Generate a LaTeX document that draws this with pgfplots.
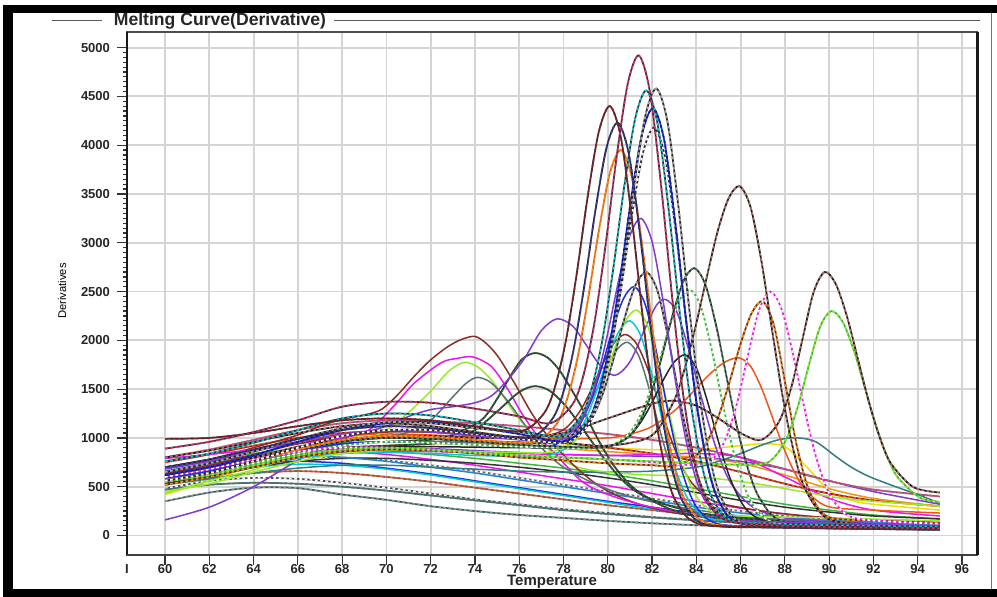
\documentclass[border=0pt]{standalone}
\usepackage{fontspec}
\setmainfont{Liberation Sans}
\usepackage{pgfplots}
\pgfplotsset{compat=1.18}
\usepackage{pgfplotstable}

\definecolor{cPink}{RGB}{230,40,110}
\definecolor{cDRed}{RGB}{150,25,35}
\definecolor{cNavy}{RGB}{60,60,170}
\definecolor{cCyan}{RGB}{0,200,215}
\definecolor{cBlue}{RGB}{25,45,225}
\definecolor{cOrRed}{RGB}{240,85,25}
\definecolor{cPurple}{RGB}{125,60,205}
\definecolor{cDBrown}{RGB}{175,110,100}
\definecolor{cBrown}{RGB}{140,45,35}
\definecolor{cLime}{RGB}{150,235,40}
\definecolor{cMag}{RGB}{235,20,235}
\definecolor{cOrange}{RGB}{235,150,20}
\definecolor{cDGreen}{RGB}{40,110,50}
\definecolor{cGreen}{RGB}{60,180,60}
\definecolor{cTeal}{RGB}{50,125,125}
\definecolor{cSlate}{RGB}{90,115,115}
\definecolor{cYellow}{RGB}{240,220,0}
\definecolor{cSteel}{RGB}{40,130,210}

% ---------- background curves ----------
\pgfplotstableread[row sep=\\]{x y\\60 350\\62 440\\64 490\\66 485\\68 420\\70 365\\72 300\\74 250\\76 210\\78 180\\80 150\\82 125\\84 105\\86 90\\88 80\\90 72\\92 66\\95 60\\}\bgA
\pgfplotstableread[row sep=\\]{x y\\60 480\\62 560\\64 590\\66 580\\68 540\\70 490\\72 430\\74 370\\76 320\\78 270\\80 230\\82 190\\84 160\\86 135\\88 115\\90 100\\92 90\\95 80\\}\bgB
\pgfplotstableread[row sep=\\]{x y\\60 520\\62 590\\64 640\\66 660\\68 640\\70 600\\72 550\\74 490\\76 430\\78 370\\80 310\\82 260\\84 210\\86 170\\88 140\\90 120\\92 105\\95 90\\}\bgC
\pgfplotstableread[row sep=\\]{x y\\60 600\\62 680\\64 740\\66 760\\68 740\\70 690\\72 630\\74 560\\76 490\\78 420\\80 350\\82 290\\84 230\\86 190\\88 160\\90 140\\92 125\\95 110\\}\bgD
\pgfplotstableread[row sep=\\]{x y\\60 560\\62 640\\64 700\\66 730\\68 720\\70 680\\72 620\\74 550\\76 480\\78 410\\80 340\\82 270\\84 210\\86 170\\88 140\\90 120\\92 110\\95 100\\}\bgE
\pgfplotstableread[row sep=\\]{x y\\60 620\\62 700\\64 770\\66 800\\68 800\\70 770\\72 720\\74 660\\76 590\\78 520\\80 450\\82 380\\84 310\\86 250\\88 200\\90 170\\92 150\\95 130\\}\bgF
\pgfplotstableread[row sep=\\]{x y\\60 640\\62 720\\64 800\\66 850\\68 860\\70 830\\72 780\\74 720\\76 650\\78 580\\80 510\\82 430\\84 350\\86 280\\88 220\\90 180\\92 150\\95 130\\}\bgG
\pgfplotstableread[row sep=\\]{x y\\60 690\\62 770\\64 840\\66 880\\68 880\\70 860\\72 830\\74 790\\76 740\\78 690\\80 630\\82 560\\84 480\\86 400\\88 320\\90 260\\92 210\\95 170\\}\bgH
\pgfplotstableread[row sep=\\]{x y\\60 420\\62 560\\64 720\\66 870\\68 990\\70 1060\\72 1080\\74 1060\\76 1000\\78 940\\80 900\\82 880\\84 880\\86 920\\87 940\\88 910\\89 700\\90 460\\91 360\\92 320\\95 260\\}\bgI
\pgfplotstableread[row sep=\\]{x y\\60 700\\62 760\\64 820\\66 870\\68 900\\70 900\\72 890\\74 870\\76 850\\78 830\\80 820\\82 810\\84 800\\86 760\\88 680\\90 560\\92 450\\95 320\\}\bgJ
\pgfplotstableread[row sep=\\]{x y\\60 750\\62 830\\64 920\\66 1000\\68 1050\\70 1070\\72 1060\\74 1030\\76 990\\78 950\\80 900\\82 840\\84 760\\86 650\\88 530\\90 430\\92 360\\95 300\\}\bgK
\pgfplotstableread[row sep=\\]{x y\\60 540\\62 620\\64 700\\66 760\\68 790\\70 790\\72 770\\74 740\\76 700\\78 650\\80 590\\82 520\\84 440\\86 360\\88 290\\90 240\\92 200\\95 170\\}\bgL
\pgfplotstableread[row sep=\\]{x y\\60 580\\62 650\\64 740\\66 820\\68 880\\70 920\\72 940\\74 940\\76 920\\78 890\\80 860\\82 830\\84 800\\86 740\\88 620\\90 480\\92 380\\95 300\\}\bgM
\pgfplotstableread[row sep=\\]{x y\\60 470\\62 520\\64 540\\66 530\\68 500\\70 460\\72 410\\74 360\\76 310\\78 260\\80 220\\82 185\\84 155\\86 130\\88 110\\90 95\\92 85\\95 75\\}\bgN
\pgfplotstableread[row sep=\\]{x y\\60 660\\62 740\\64 800\\66 820\\68 800\\70 760\\72 700\\74 640\\76 570\\78 500\\80 430\\82 360\\84 290\\86 230\\88 185\\90 155\\92 135\\95 115\\}\bgO
\pgfplotstableread[row sep=\\]{x y\\60 800\\62 880\\64 980\\66 1080\\68 1150\\70 1180\\72 1170\\74 1150\\76 1120\\78 1080\\80 1040\\82 980\\84 900\\86 800\\88 680\\90 560\\92 470\\95 400\\}\bgP
\pgfplotstableread[row sep=\\]{x y\\60 620\\62 690\\64 760\\66 820\\68 850\\70 860\\72 860\\74 850\\76 840\\78 830\\80 820\\82 830\\84 840\\86 800\\88 600\\90 380\\92 260\\95 200\\}\bgQ

% ---------- peaked curves ----------
\pgfplotstableread[row sep=\\]{x y\\60 890\\62 960\\64 1060\\66 1180\\68 1320\\70 1370\\72 1360\\74 1300\\76 1220\\77.4 1150\\78.4 1342\\78.9 1642\\79.4 2184\\79.9 2976\\80.4 3882\\80.9 4628\\81.4 4920\\81.9 4550\\82.4 3605\\82.9 2458\\83.4 1454\\83.9 768\\84.4 389\\85.4 150\\88 100\\91 85\\95 75\\}\pkA
\pgfplotstableread[row sep=\\]{x y\\60 990\\62 1000\\64 1050\\66 1120\\68 1180\\70 1200\\72 1180\\74 1120\\76.1 1070\\77.1 1247\\77.6 1511\\78.1 1989\\78.6 2687\\79.1 3485\\79.6 4143\\80.1 4400\\80.6 4069\\81.1 3222\\81.6 2194\\82.1 1295\\82.6 681\\83.1 341\\84.1 120\\87 90\\91 75\\95 65\\}\pkB
\pgfplotstableread[row sep=\\]{x y\\60 700\\62 780\\64 880\\66 990\\68 1080\\70 1120\\72 1100\\74 1050\\76.45 1005\\77.45 1181\\77.95 1436\\78.45 1898\\78.95 2573\\79.45 3345\\79.95 3981\\80.45 4230\\80.95 3911\\81.45 3096\\81.95 2106\\82.45 1241\\82.95 649\\83.45 322\\84.45 110\\88 80\\95 60\\}\pkC
\pgfplotstableread[row sep=\\]{x y\\60 760\\62 840\\64 950\\66 1080\\68 1200\\70 1250\\72 1230\\74 1160\\76 1080\\77.75 1015\\78.75 1209\\79.25 1489\\79.75 1997\\80.25 2739\\80.75 3587\\81.25 4287\\81.75 4560\\82.25 4218\\82.75 3343\\83.25 2282\\83.75 1354\\84.25 719\\84.75 369\\85.75 140\\89 110\\95 90\\}\pkD
\pgfplotstableread[row sep=\\]{x y\\60 650\\62 740\\64 860\\66 990\\68 1100\\70 1160\\72 1150\\74 1100\\76 1060\\78.2 1015\\79.2 1210\\79.7 1492\\80.2 2002\\80.7 2749\\81.2 3602\\81.7 4305\\82.2 4580\\82.7 4235\\83.2 3352\\83.7 2282\\84.2 1345\\84.7 705\\85.2 351\\86.2 120\\90 80\\95 60\\}\pkE
\pgfplotstableread[row sep=\\]{x y\\60 620\\62 700\\64 820\\66 960\\68 1080\\70 1150\\72 1160\\74 1110\\76 1040\\78.05 965\\79.05 1152\\79.55 1422\\80.05 1911\\80.55 2626\\81.05 3443\\81.55 4117\\82.05 4380\\82.55 4050\\83.05 3207\\83.55 2184\\84.05 1290\\84.55 678\\85.05 340\\86.05 120\\90 90\\95 75\\}\pkF
\pgfplotstableread[row sep=\\]{x y\\60 560\\62 640\\64 760\\66 900\\68 1020\\70 1080\\72 1080\\74 1040\\76 990\\78.1 955\\79.1 1131\\79.6 1386\\80.1 1848\\80.6 2523\\81.1 3295\\81.6 3931\\82.1 4180\\82.6 3865\\83.1 3059\\83.6 2082\\84.1 1227\\84.6 642\\85.1 319\\86.1 110\\90 75\\95 60\\}\pkG
\pgfplotstableread[row sep=\\]{x y\\60 560\\62 640\\64 760\\66 880\\68 980\\70 1020\\72 1010\\74 980\\76.6 955\\77.6 1118\\78.1 1355\\78.6 1784\\79.1 2411\\79.6 3128\\80.1 3719\\80.6 3950\\81.1 3654\\81.6 2895\\82.1 1975\\82.6 1170\\83.1 620\\83.6 316\\84.6 120\\88 90\\95 70\\}\pkH
\pgfplotstableread[row sep=\\]{x y\\60 680\\62 760\\64 860\\66 960\\68 1040\\70 1080\\72 1060\\74 1020\\77.5 965\\78.5 1088\\79 1269\\79.5 1597\\80 2075\\80.5 2623\\81 3074\\81.5 3250\\82 3011\\82.5 2401\\83 1660\\83.5 1012\\84 569\\84.5 324\\85.5 170\\89 130\\95 100\\}\pkI
\pgfplotstableread[row sep=\\]{x y\\60 800\\62 870\\64 960\\66 1050\\68 1120\\70 1150\\72 1120\\74 1060\\76 1000\\78 950\\80 920\\81.95 1018\\82.95 1361\\83.45 1691\\83.95 2127\\84.45 2626\\84.95 3106\\85.45 3451\\85.95 3580\\86.45 3365\\86.95 2799\\87.45 2064\\87.95 1359\\88.45 814\\88.95 460\\89.95 169\\92 110\\95 90\\}\pkJ
\pgfplotstableread[row sep=\\]{x y\\60 620\\62 700\\64 800\\66 900\\68 980\\70 1020\\72 1020\\74 1000\\76 1000\\78 1050\\80 1200\\82 1350\\83 1380\\84 1330\\85 1200\\86 1050\\86.8 975\\87.3 1037\\87.8 1195\\88.3 1526\\88.8 2016\\89.3 2495\\89.8 2700\\90.3 2577\\90.8 2248\\91.3 1808\\91.8 1363\\92.3 995\\92.8 736\\93.8 496\\95 440\\}\pkK
\pgfplotstableread[row sep=\\]{x y\\60 550\\62 620\\64 720\\66 820\\68 880\\70 900\\72 880\\74 850\\76 820\\78 800\\80 780\\82 760\\84 740\\86 725\\87.1 738\\87.6 822\\88.1 1006\\88.6 1332\\89.1 1759\\89.6 2143\\90.1 2300\\90.6 2194\\91.1 1908\\91.6 1526\\92.1 1140\\92.6 821\\93.1 596\\94.1 387\\95 345\\}\pkL
\pgfplotstableread[row sep=\\]{x y\\60 600\\62 680\\64 780\\66 860\\68 900\\70 900\\72 880\\74 850\\76 820\\78 800\\80 780\\82 750\\83.3 725\\84.33 731\\84.83 806\\85.33 993\\85.83 1348\\86.33 1843\\86.83 2307\\87.33 2500\\87.83 2333\\88.33 1898\\88.83 1358\\89.33 869\\89.83 519\\90.33 315\\91.33 170\\95 120\\}\pkM
\pgfplotstableread[row sep=\\]{x y\\60 520\\62 600\\64 700\\66 800\\68 860\\70 880\\72 870\\74 840\\76 800\\78 770\\80 740\\82 720\\83 712\\84 819\\84.5 967\\85 1220\\85.5 1574\\86 1965\\86.5 2279\\87 2400\\87.5 2159\\88 1579\\88.5 960\\89 517\\89.5 283\\90 188\\91 160\\95 130\\}\pkN
\pgfplotstableread[row sep=\\]{x y\\60 600\\62 680\\64 780\\66 880\\68 960\\70 1000\\72 990\\74 960\\76 930\\78 910\\79.9 905\\80.9 1003\\81.4 1148\\81.9 1412\\82.4 1796\\82.9 2236\\83.4 2598\\83.9 2740\\84.4 2576\\84.9 2146\\85.4 1586\\85.9 1050\\86.4 636\\86.9 367\\87.9 145\\91 100\\95 80\\}\pkO
\pgfplotstableread[row sep=\\]{x y\\60 560\\62 640\\64 740\\66 840\\68 920\\70 960\\72 950\\74 930\\76 910\\78 900\\79.7 895\\80.7 991\\81.2 1119\\81.7 1350\\82.2 1689\\82.7 2076\\83.2 2395\\83.7 2520\\84.2 2348\\84.7 1900\\85.2 1344\\85.7 841\\86.2 480\\86.7 269\\87.7 120\\91 90\\95 70\\}\pkP
\pgfplotstableread[row sep=\\]{x y\\60 700\\62 780\\64 880\\66 960\\68 1020\\70 1040\\72 1030\\74 1010\\76 1000\\78 990\\80 1000\\80.95 1036\\81.95 1111\\82.95 1267\\83.45 1376\\83.95 1498\\84.45 1619\\84.95 1723\\85.45 1795\\85.95 1820\\86.45 1735\\86.95 1508\\87.45 1203\\87.95 895\\88.45 641\\88.95 462\\89.95 296\\92 260\\95 230\\}\pkQ
\pgfplotstableread[row sep=\\]{x y\\60 520\\62 580\\64 640\\66 690\\68 720\\70 720\\72 700\\74 680\\76 660\\78 650\\80 650\\82 660\\84 700\\85 760\\86 840\\87 930\\87.8 985\\88.6 1000\\89.4 960\\90.3 810\\91 700\\91.8 605\\93 500\\94 420\\95 330\\}\pkR
\pgfplotstableread[row sep=\\]{x y\\60 700\\62 780\\64 900\\66 1030\\67 1120\\68 1190\\69 1235\\69.76 1290\\70.5 1440\\71.25 1630\\72 1800\\72.78 1936\\73.4 2010\\74 2040\\74.5 1970\\75.04 1834\\75.78 1564\\76.55 1257\\77.3 1014\\78.2 776\\79.4 540\\80.5 400\\82 280\\84 200\\88 130\\95 90\\}\pkS
\pgfplotstableread[row sep=\\]{x y\\60 790\\62 830\\64 880\\66 940\\68 1000\\69.2 1080\\70.35 1330\\71.25 1560\\72.47 1770\\73.2 1815\\73.9 1830\\74.74 1732\\75.5 1493\\76.1 1257\\76.85 1014\\77.6 844\\78.8 560\\80 420\\82 290\\85 180\\90 110\\95 80\\}\pkT
\pgfplotstableread[row sep=\\]{x y\\60 430\\62 560\\64 673\\66 827\\68 920\\69 980\\70 1080\\71 1260\\72 1480\\72.8 1680\\73.5 1775\\74.1 1730\\74.74 1595\\75.3 1420\\75.78 1257\\76.7 1014\\77.9 780\\79 680\\81 630\\83 610\\85 580\\87 520\\89 440\\91 370\\95 300\\}\pkU
\pgfplotstableread[row sep=\\]{x y\\60 160\\62 290\\64 500\\66 770\\68 990\\70 1120\\71 1220\\72 1290\\73 1320\\74 1360\\74.74 1430\\75.5 1600\\76.25 1820\\77 2100\\77.7 2220\\78.4 2150\\79 1960\\79.6 1760\\80.3 1640\\81 1780\\81.7 2130\\82.2 2360\\82.6 2420\\83.1 2300\\83.6 1950\\84.2 1440\\84.8 960\\85.5 560\\86.5 300\\88 180\\91 130\\95 100\\}\pkV
\pgfplotstableread[row sep=\\]{x y\\60 640\\62 700\\64 800\\66 890\\68 940\\70 960\\72 980\\73 1030\\74.3 1185\\75 1400\\75.5 1595\\76.1 1800\\76.7 1870\\77.3 1820\\77.9 1665\\78.8 1322\\79.57 980\\80.3 707\\81.2 480\\82.5 300\\84 200\\87 140\\91 100\\95 80\\}\pkW
\pgfplotstableread[row sep=\\]{x y\\60 600\\62 660\\64 760\\66 850\\68 900\\70 920\\72 940\\73 980\\74 1080\\75 1270\\76 1470\\76.7 1530\\77.4 1480\\78.2 1300\\79 1050\\79.8 800\\80.6 580\\81.5 420\\83 290\\85 200\\89 130\\95 90\\}\pkX
\pgfplotstableread[row sep=\\]{x y\\60 580\\62 650\\64 760\\66 870\\68 960\\70 1010\\71 1060\\72 1180\\73 1420\\73.6 1560\\74.1 1620\\74.7 1570\\75.4 1400\\76.2 1150\\77 900\\78 700\\79.5 520\\81 400\\83 300\\86 200\\90 130\\95 90\\}\pkY
\pgfplotstableread[row sep=\\]{x y\\60 590\\62 660\\64 770\\66 870\\68 940\\70 960\\72 950\\74 930\\76 910\\77.2 905\\78.2 992\\78.7 1123\\79.2 1359\\79.7 1704\\80.2 2098\\80.7 2423\\81.2 2550\\81.7 2361\\82.2 1879\\82.7 1293\\83.2 781\\83.7 431\\84.2 237\\85.2 110\\89 90\\95 70\\}\pkZ
\pgfplotstableread[row sep=\\]{x y\\60 450\\62 530\\64 650\\66 760\\68 840\\70 870\\72 870\\74 860\\76 850\\77.3 850\\78.3 932\\78.8 1047\\79.3 1256\\79.8 1561\\80.3 1910\\80.8 2198\\81.3 2310\\81.8 2148\\82.3 1732\\82.8 1228\\83.3 787\\83.8 485\\84.3 318\\85.3 210\\90 180\\95 150\\}\pkAA
\pgfplotstableread[row sep=\\]{x y\\60 520\\62 600\\64 700\\66 790\\68 840\\70 850\\72 840\\74 820\\76 810\\77 800\\78 878\\78.5 989\\79 1189\\79.5 1482\\80 1816\\80.5 2092\\81 2200\\81.5 2042\\82 1638\\82.5 1148\\83 720\\83.5 427\\84 265\\85 160\\90 120\\95 100\\}\pkAB
\pgfplotstableread[row sep=\\]{x y\\60 640\\62 720\\64 830\\66 940\\68 1020\\70 1060\\72 1060\\74 1040\\76 1010\\76.8 1003\\77.8 1059\\78.3 1143\\78.8 1295\\79.3 1516\\79.8 1770\\80.3 1978\\80.8 2060\\81.3 1965\\81.8 1710\\82.3 1368\\82.8 1023\\83.3 738\\83.8 538\\84.8 351\\87 250\\90 180\\95 120\\}\pkAC
\pgfplotstableread[row sep=\\]{x y\\60 560\\62 640\\64 750\\66 860\\68 930\\70 960\\72 960\\74 955\\76.9 950\\77.9 1008\\78.4 1089\\78.9 1236\\79.4 1452\\79.9 1698\\80.4 1901\\80.9 1980\\81.4 1839\\81.9 1479\\82.4 1041\\82.9 659\\83.4 397\\83.9 252\\84.9 160\\90 120\\95 90\\}\pkAD
\pgfplotstableread[row sep=\\]{x y\\60 610\\62 690\\64 800\\66 910\\68 980\\70 1000\\72 990\\74 970\\76 955\\77.75 950\\78.75 1048\\79.25 1186\\79.75 1437\\80.25 1802\\80.75 2221\\81.25 2565\\81.75 2700\\82.25 2504\\82.75 2001\\83.25 1392\\83.75 859\\84.25 494\\84.75 293\\85.75 165\\90 110\\95 90\\}\pkAE
\pgfplotstableread[row sep=\\]{x y\\60 530\\62 610\\64 720\\66 820\\68 880\\70 910\\72 910\\74 905\\76 900\\79.5 900\\80.5 953\\81 1028\\81.5 1164\\82 1363\\82.5 1590\\83 1777\\83.5 1850\\84 1717\\84.5 1376\\85 963\\85.5 601\\86 354\\86.5 217\\87.5 130\\91 100\\95 80\\}\pkAF

\newcommand{\dcb}[3]{%
  \addplot[#1, line width=0.85pt, smooth] table {#3};
  \addplot[#2, line width=0.85pt, smooth, dash pattern=on 1.3pt off 1.3pt] table {#3};}
\newcommand{\sol}[2]{\addplot[#1, line width=0.75pt, smooth] table {#2};}

\begin{document}
\begin{tikzpicture}
\useasboundingbox (0,0) rectangle (498.5pt,-298.5pt);
\fill[white] (0,0) rectangle (498.5pt,-298.5pt);
% outer frame
\fill[black] (1.5pt,-2.75pt) rectangle (498.5pt,-6.5pt);
\fill[black] (1.5pt,-2.75pt) rectangle (6.3pt,-298.5pt);
\fill[black] (1.5pt,-294.3pt) rectangle (498.5pt,-298.5pt);
\draw[black!55, line width=0.6pt] (495.6pt,-6.5pt) -- (495.6pt,-294.3pt);
% group title
\draw[black!65, line width=0.9pt] (26pt,-10.3pt) -- (51pt,-10.3pt);
\draw[black!65, line width=0.9pt] (167pt,-10.3pt) -- (490pt,-10.3pt);
\node[font=\fontsize{8.8}{10}\selectfont\bfseries, text=black!85, inner sep=0pt] at (110pt,-10.6pt) {Melting Curve(Derivative)};

\begin{axis}[
  name=ax,
  at={(63.5pt,-277.5pt)}, anchor=south west,
  scale only axis, width=425pt, height=261.5pt,
  xmin=58.28, xmax=96.68, ymin=-200, ymax=5160,
  axis line style={black!70, line width=0.7pt},
  xtick={60,62,...,96}, ytick={0,500,...,5000},
  extra x ticks={58.28}, extra x tick labels={I},
  extra x tick style={grid=none, tick style={draw=none}},
  minor y tick num=9,
  tick align=outside, tick pos=left,
  major tick length=5pt, minor tick length=2pt,
  tick style={black!80, line width=0.6pt},
  grid=major, major grid style={black!17, line width=0.9pt},
  ticklabel style={font=\fontsize{6.5}{7}\selectfont\bfseries, text=black!85},
  xticklabel style={yshift=4pt},
  /pgf/number format/assume math mode=true,
  /pgf/number format/1000 sep={},
  scaled y ticks=false,
  clip mode=individual,
]
% background
\dcb{black!70}{cTeal!70}{\bgA}
\dcb{black!70}{white}{\bgB}
\dcb{cOrRed}{black!60}{\bgC}
\sol{cBlue}{\bgD}
\sol{cCyan}{\bgE}
\dcb{black!60}{white}{\bgF}
\sol{cMag}{\bgG}
\sol{cGreen}{\bgH}
\sol{cYellow}{\bgI}
\sol{cPurple}{\bgJ}
\dcb{cDRed}{cOrRed}{\bgK}
\sol{black!80}{\bgL}
\sol{cOrange}{\bgM}
\dcb{black!60}{cTeal}{\bgN}
\sol{cSteel}{\bgO}
\dcb{cPink}{black!50}{\bgP}
\sol{cMag}{\bgQ}
% low / late peaks
\sol{cTeal}{\pkR}
\sol{cOrRed}{\pkQ}
\sol{cLime}{\pkU}
\sol{cBrown}{\pkS}
\sol{cMag}{\pkT}
\sol{cSlate}{\pkY}
\dcb{black!80}{cDGreen}{\pkX}
\dcb{black!80}{cDGreen}{\pkW}
\sol{cPurple}{\pkV}
\sol{cSlate}{\pkAD}
\sol{cBrown}{\pkAC}
\sol{cCyan}{\pkAB}
\sol{cLime}{\pkAA}
\sol{cBlue}{\pkZ}
\sol{black!85}{\pkAF}
\dcb{black!85}{black!40}{\pkAE}
\dcb{cGreen}{white}{\pkP}
\dcb{black!85}{cDGreen!80}{\pkO}
\dcb{cBrown!80!black}{cOrange}{\pkN}
\dcb{cMag}{white}{\pkM}
\dcb{cGreen}{cLime}{\pkL}
\dcb{black!90}{cDBrown}{\pkK}
\dcb{black!90}{cDBrown}{\pkJ}
% tall peaks
\sol{cPurple}{\pkI}
\dcb{cOrRed}{cOrange}{\pkH}
\dcb{black!85}{white}{\pkG}
\dcb{cBlue}{cBlue!60!black}{\pkF}
\dcb{black!85}{black!35}{\pkE}
\dcb{black!80}{cCyan}{\pkD}
\dcb{black!85}{cNavy}{\pkC}
\dcb{black!80}{cDRed}{\pkB}
\dcb{black!80}{cPink}{\pkA}
\end{axis}
\draw[black!90, line width=1.35pt] (ax.south west) -- (ax.north west);
\draw[black!75, line width=1.1pt] (ax.south west) -- (ax.south east);
\draw[black!90, line width=1.5pt] (ax.south east) -- (ax.north east);
\node[rotate=90, font=\fontsize{5.6}{6}\selectfont] at (31pt,-145.5pt) {Derivatives};
\node[font=\fontsize{7.5}{9}\selectfont\bfseries, text=black!85] at (276pt,-291.2pt) {Temperature};
\end{tikzpicture}
\end{document}
